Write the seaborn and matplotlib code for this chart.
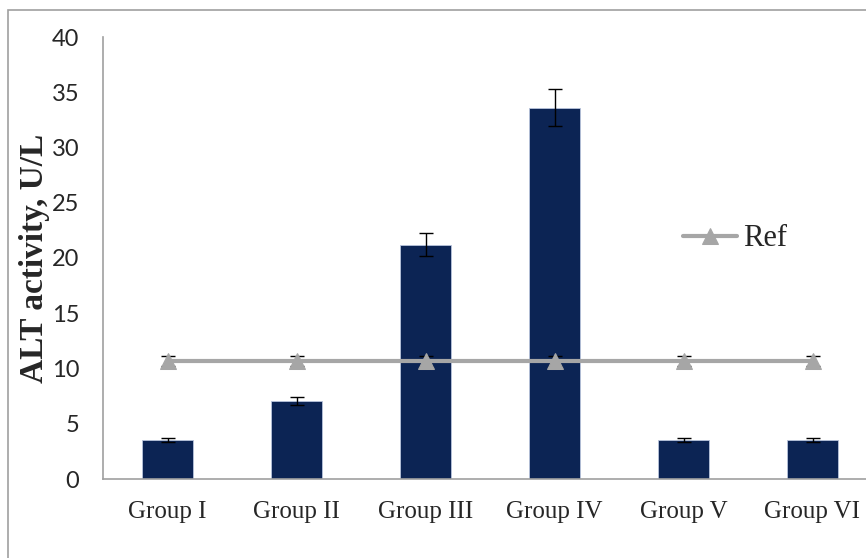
import numpy as np
import pandas as pd
import matplotlib
matplotlib.use("Agg")
import matplotlib.pyplot as plt
import seaborn as sns
from matplotlib.patches import Rectangle

# --- data ---
groups = ["Group I", "Group II", "Group III", "Group IV", "Group V", "Group VI"]
alt_mean = [3.53, 7.06, 21.2, 33.6, 3.53, 3.53]
alt_err = [0.2, 0.35, 1.05, 1.65, 0.2, 0.2]
ref_val = [10.65, 10.65, 10.65, 10.65, 10.65, 10.65]
ref_err = [0.45, 0.45, 0.45, 0.45, 0.45, 0.45]

df = pd.DataFrame({"group": groups, "alt": alt_mean, "err": alt_err,
                   "ref": ref_val, "ref_err": ref_err})

sns.set_style("white")
plt.rcParams["font.family"] = ["Liberation Serif", "DejaVu Serif"]

fig = plt.figure(figsize=(8.66, 5.58), dpi=100)
ax = fig.add_axes([103 / 866, 1 - 479 / 558, 774 / 866, 442 / 558])

navy = "#002060"
grey = "#a6a6a6"

sns.barplot(data=df, x="group", y="alt", color=navy, width=0.4,
            edgecolor="#b8c4dc", linewidth=0.6, ax=ax, zorder=2)
xs = np.arange(len(groups))
ax.errorbar(xs, df["alt"], yerr=df["err"], fmt="none", ecolor="black",
            elinewidth=1.0, capsize=5, capthick=1.0, zorder=3)

# reference line
ax.errorbar(xs, df["ref"], yerr=df["ref_err"], fmt="none", ecolor="black",
            elinewidth=1.0, capsize=5, capthick=1.0, zorder=3)
sns.lineplot(x=xs, y=df["ref"], color=grey, lw=3, marker="^", markersize=11,
             markeredgecolor=grey, label="Ref", ax=ax, zorder=4)

ax.set_xlim(-0.5, 5.5)
ax.set_ylim(0, 40)
ax.set_yticks(range(0, 41, 5))
ax.set_xticks(xs)
ax.set_xticklabels(groups, fontsize=18)
ax.set_xticks(np.arange(-0.5, 6, 1), minor=True)
ax.tick_params(axis="x", which="major", length=0, pad=16)
ax.tick_params(axis="x", which="minor", length=7, color="#a0a0a0", direction="out")
ax.tick_params(axis="y", length=8, color="#a0a0a0", direction="out", pad=9,
               labelsize=17)
for lab in ax.get_yticklabels():
    lab.set_fontfamily("Lato")

ax.set_xlabel("")
ax.set_ylabel("ALT activity, U/L", fontsize=24, fontweight="bold", labelpad=1)

for s in ["top", "right"]:
    ax.spines[s].set_visible(False)
for s in ["left", "bottom"]:
    ax.spines[s].set_color("#a0a0a0")
    ax.spines[s].set_linewidth(1.2)

ax.legend(loc="center left", bbox_to_anchor=(565 / 774, 1 - 202 / 442),
          frameon=False, fontsize=22, handlelength=1.75, handletextpad=0.2,
          borderpad=0)

# outer chart border
fig.patches.append(Rectangle((8 / 866, -0.1), 1.2, 1 - 10 / 558 + 0.1,
                             transform=fig.transFigure, fill=False,
                             edgecolor="#a0a0a0", linewidth=1.2))

fig.savefig("out.png", dpi=100)
